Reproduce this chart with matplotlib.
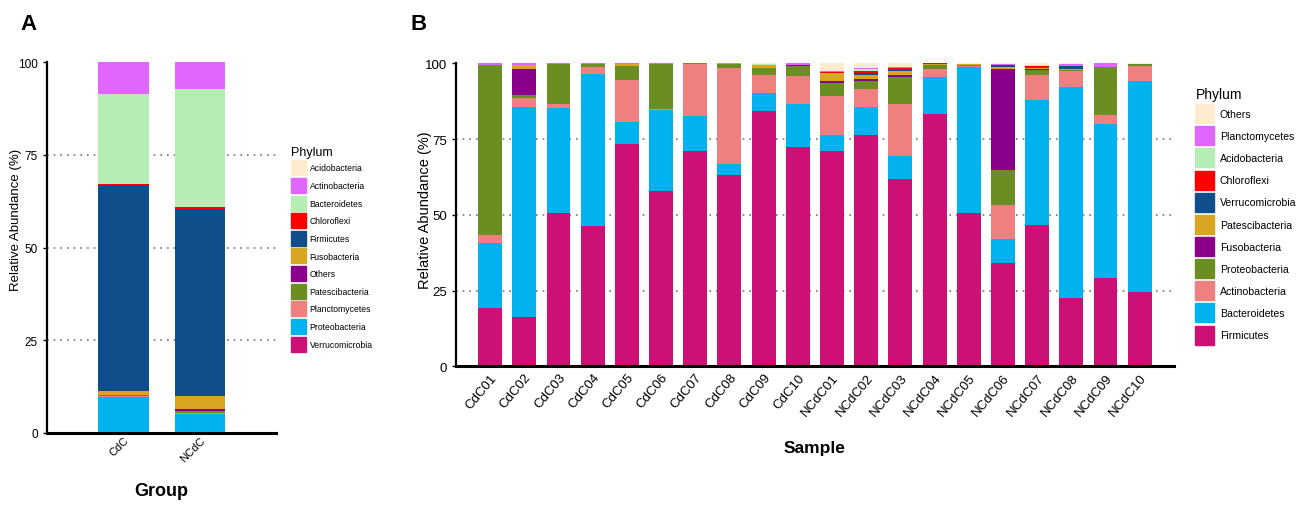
import matplotlib
matplotlib.use("Agg")
import matplotlib.pyplot as plt
import numpy as np
from matplotlib.patches import Patch

plt.rcParams['font.family'] = ['Liberation Sans', 'DejaVu Sans']

# ---- panel A data (group means) ----
groups = ["CdC", "NCdC"]
# stacking order bottom -> top
phyla_a = ["Verrucomicrobia", "Proteobacteria", "Planctomycetes", "Patescibacteria",
           "Others", "Fusobacteria", "Firmicutes", "Chloroflexi", "Bacteroidetes",
           "Actinobacteria", "Acidobacteria"]
vals_a = {
    "Verrucomicrobia": [0.0, 0.1],
    "Proteobacteria":  [9.8, 5.0],
    "Planctomycetes":  [0.1, 0.2],
    "Patescibacteria": [0.3, 0.7],
    "Others":          [0.1, 0.6],
    "Fusobacteria":    [0.9, 3.5],
    "Firmicutes":      [55.6, 50.4],
    "Chloroflexi":     [0.2, 0.3],
    "Bacteroidetes":   [24.3, 32.0],
    "Actinobacteria":  [8.7, 7.2],
    "Acidobacteria":   [0.0, 0.0],
}
colors_a = {
    "Acidobacteria": "#FFEBCD", "Actinobacteria": "#E066FF", "Bacteroidetes": "#B4EEB4",
    "Chloroflexi": "#FF0000", "Firmicutes": "#104E8B", "Fusobacteria": "#DAA520",
    "Others": "#8B008B", "Patescibacteria": "#6B8E23", "Planctomycetes": "#F08080",
    "Proteobacteria": "#00B2EE", "Verrucomicrobia": "#CD1076",
}

# ---- panel B data (samples) ----
samples = ["CdC01", "CdC02", "CdC03", "CdC04", "CdC05", "CdC06", "CdC07", "CdC08", "CdC09", "CdC10",
           "NCdC01", "NCdC02", "NCdC03", "NCdC04", "NCdC05", "NCdC06", "NCdC07", "NCdC08", "NCdC09", "NCdC10"]
firmicutes      = [19.3, 16.4, 50.7, 46.4, 73.3, 58.0, 71.1, 63.1, 84.2, 72.3,
                   71.1, 76.5, 61.9, 83.3, 50.5, 34.0, 46.6, 22.7, 29.3, 24.4]
bacteroidetes   = [21.4, 69.3, 34.7, 50.2, 7.3, 26.7, 11.5, 3.7, 5.9, 14.3,
                   5.1, 9.0, 7.6, 12.1, 48.2, 8.0, 41.3, 69.4, 50.7, 69.6]
actinobacteria  = [2.5, 2.7, 1.3, 2.2, 13.8, 0.2, 17.1, 31.7, 6.1, 9.1,
                   13.0, 5.9, 17.1, 2.7, 0.3, 11.2, 8.2, 5.4, 2.8, 5.0]
proteobacteria  = [56.1, 1.2, 13.0, 0.9, 4.8, 14.9, 0.3, 1.2, 2.1, 3.5,
                   4.4, 2.9, 9.0, 1.3, 0.6, 11.7, 1.7, 0.3, 16.1, 0.7]
fusobacteria    = [0.2, 8.4, 0, 0, 0, 0, 0, 0, 0.2, 0.3,
                   0.5, 0.6, 0.6, 0, 0, 33.2, 0.3, 0, 0, 0]
patescibacteria = [0, 1.4, 0, 0, 0.7, 0, 0, 0.3, 0.9, 0,
                   2.8, 1.4, 1.1, 0.3, 0.2, 0.8, 0.3, 0.4, 0, 0]
verrucomicrobia = [0, 0, 0, 0, 0, 0, 0, 0, 0, 0,
                   0, 0.4, 0.5, 0, 0, 0.5, 0.2, 0.8, 0, 0]
chloroflexi     = [0, 0, 0, 0, 0, 0, 0, 0, 0, 0,
                   0.2, 0.6, 0.6, 0.3, 0, 0, 0.4, 0, 0, 0]
acidobacteria   = [0, 0, 0, 0, 0, 0, 0, 0, 0.3, 0,
                   0, 0.8, 0.2, 0, 0, 0, 0.6, 0, 0, 0]
planctomycetes  = [0.5, 0.6, 0.3, 0.3, 0.1, 0.2, 0, 0, 0, 0.5,
                   0.2, 0.2, 0.3, 0, 0, 0.3, 0, 0.8, 1.1, 0]
others          = [0, 0, 0, 0, 0, 0, 0, 0, 0.3, 0,
                   2.7, 1.7, 1.1, 0, 0.2, 0.3, 0.4, 0.2, 0, 0.3]

# bottom -> top
stack_b = [("Firmicutes", firmicutes, "#CD1076"),
           ("Bacteroidetes", bacteroidetes, "#00B2EE"),
           ("Actinobacteria", actinobacteria, "#F08080"),
           ("Proteobacteria", proteobacteria, "#6B8E23"),
           ("Fusobacteria", fusobacteria, "#8B008B"),
           ("Patescibacteria", patescibacteria, "#DAA520"),
           ("Verrucomicrobia", verrucomicrobia, "#104E8B"),
           ("Chloroflexi", chloroflexi, "#FF0000"),
           ("Acidobacteria", acidobacteria, "#B4EEB4"),
           ("Planctomycetes", planctomycetes, "#E066FF"),
           ("Others", others, "#FFEBCD")]

fig = plt.figure(figsize=(12.99, 5.06), dpi=100)


def style_axes(ax, tick_fs):
    for s in ["top", "right"]:
        ax.spines[s].set_visible(False)
    ax.spines["left"].set_linewidth(1.6)
    ax.spines["bottom"].set_linewidth(2.2)
    ax.set_ylim(0, 100)
    ax.set_yticks([0, 25, 50, 75, 100])
    ax.tick_params(axis="y", labelsize=tick_fs, length=3, width=1)
    ax.tick_params(axis="x", length=0)
    for v in [25, 50, 75]:
        ax.axhline(v, color="#777777", linestyle=(0, (1, 3)), linewidth=1.2, zorder=0)


# ---- Panel A ----
axA = fig.add_axes([0.0362, 0.1423, 0.1763, 0.733])
xa = np.arange(len(groups))
bottom = np.zeros(len(groups))
for p in phyla_a:
    v = np.array(vals_a[p])
    axA.bar(xa, v, bottom=bottom, width=0.66, color=colors_a[p], linewidth=0, zorder=2)
    bottom += v
axA.set_xlim(-1, 2)
style_axes(axA, 8.5)
axA.set_xticks(xa)
axA.set_xticklabels(groups, rotation=45, fontsize=8, ha="right", rotation_mode="anchor")
axA.tick_params(axis="x", pad=1)
axA.set_ylabel("Relative Abundance (%)", fontsize=9.5)
axA.yaxis.set_label_coords(-0.11, 0.577)
axA.set_xlabel("Group", fontsize=13, fontweight="bold", labelpad=14)

legend_a = sorted(colors_a.keys())
axA.legend([Patch(color=colors_a[p]) for p in legend_a], legend_a,
           loc="upper left", bbox_to_anchor=(0.2195, 0.722), bbox_transform=fig.transFigure,
           frameon=False, title="Phylum", title_fontsize=9, fontsize=6.2,
           alignment="left", handlelength=1.75, handleheight=2.31, labelspacing=0.3,
           handletextpad=0.4, borderaxespad=0.3)

# ---- Panel B ----
axB = fig.add_axes([0.3510, 0.2741, 0.5527, 0.5988])
xb = np.arange(len(samples))
bottom = np.zeros(len(samples))
for name, v, c in stack_b:
    v = np.array(v, dtype=float)
    axB.bar(xb, v, bottom=bottom, width=0.7, color=c, linewidth=0, zorder=2)
    bottom += v
axB.set_xlim(-1, 20)
style_axes(axB, 9.5)
axB.set_xticks(xb)
axB.set_xticklabels(samples, rotation=50, fontsize=9.5, ha="right", rotation_mode="anchor")
axB.set_ylabel("Relative Abundance (%)", fontsize=10.5)
axB.yaxis.set_label_coords(-0.034, 0.52)
axB.set_xlabel("Sample", fontsize=12.5, fontweight="bold", labelpad=16)

handles_b = [Patch(color=c) for name, v, c in stack_b[::-1]]
labels_b = [name for name, v, c in stack_b[::-1]]
axB.legend(handles_b, labels_b,
           loc="upper left", bbox_to_anchor=(0.913, 0.845), bbox_transform=fig.transFigure,
           frameon=False, title="Phylum", title_fontsize=10, fontsize=7.6,
           alignment="left", handlelength=1.8, handleheight=2.39, labelspacing=0.3,
           handletextpad=0.5)

fig.text(0.016, 0.94, "A", fontsize=16, fontweight="bold")
fig.text(0.316, 0.94, "B", fontsize=16, fontweight="bold")

fig.savefig("out.png", dpi=100)
